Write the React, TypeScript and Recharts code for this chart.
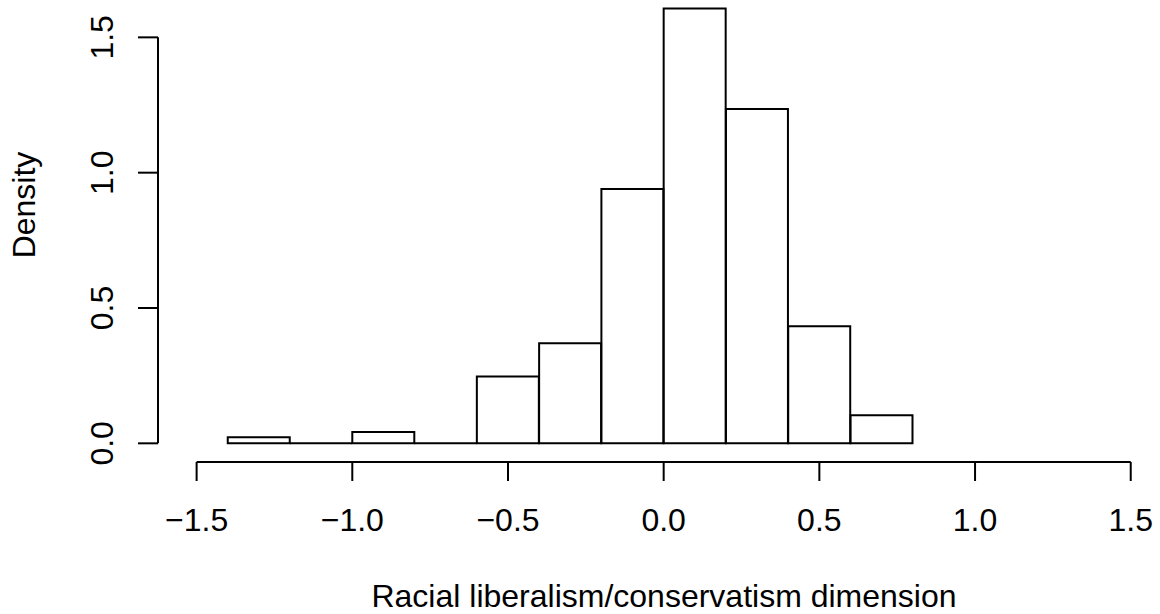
import { ComposedChart, Bar, XAxis, YAxis, ReferenceLine } from 'recharts';

// Histogram bins (left edges), width 0.2, densities
const BIN_START = [-1.4, -1.2, -1.0, -0.8, -0.6, -0.4, -0.2, 0.0, 0.2, 0.4, 0.6];
const BIN_WIDTH = 0.2;
const DENSITY = [0.022, 0, 0.042, 0, 0.247, 0.370, 0.940, 1.607, 1.235, 0.433, 0.104];

const X_TICKS = [-1.5, -1, -0.5, 0, 0.5, 1, 1.5];
const X_TICK_LABELS = ['−1.5', '−1.0', '−0.5', '0.0', '0.5', '1.0', '1.5'];
const Y_TICKS = [0, 0.5, 1, 1.5];
const Y_TICK_LABELS = ['0.0', '0.5', '1.0', '1.5'];

// plot region extends a bit past the axes, like base R does
const X_DOMAIN = [-1.624, 1.594];
const Y_DOMAIN = [-0.069, 1.638];

const FONT = '"Liberation Sans", Arial, Helvetica, sans-serif';
const FONT_SIZE = 32;

const data = BIN_START.map((s, i) => ({ mid: s + BIN_WIDTH / 2, density: DENSITY[i] }));

// outline only, so empty bins still show as a flat line
const HistBar = (props: any) => {
  const { x, y, width, height } = props;
  const d = `M${x},${y + height}L${x},${y}L${x + width},${y}L${x + width},${y + height}Z`;
  return <path d={d} fill="none" stroke="#000" strokeWidth={2} />;
};

const XTick = (props: any) => {
  const { x, y, payload } = props;
  const i = X_TICKS.indexOf(payload.value);
  return (
    <text x={x} y={y + 50} textAnchor="middle" fill="#000" fontFamily={FONT} fontSize={FONT_SIZE}>
      {X_TICK_LABELS[i]}
    </text>
  );
};

const YTick = (props: any) => {
  const { x, y, payload } = props;
  const i = Y_TICKS.indexOf(payload.value);
  const bx = x - 25;
  return (
    <text
      x={bx} y={y}
      transform={`rotate(-90, ${bx}, ${y})`}
      textAnchor="middle" fill="#000" fontFamily={FONT} fontSize={FONT_SIZE}
    >
      {Y_TICK_LABELS[i]}
    </text>
  );
};

const XLabel = () => (
  <text x={664} y={607} textAnchor="middle" fill="#000" fontFamily={FONT} fontSize={FONT_SIZE}>
    Racial liberalism/conservatism dimension
  </text>
);

const YLabel = () => (
  <text
    x={35} y={205}
    transform="rotate(-90, 35, 205)"
    textAnchor="middle" fill="#000" fontFamily={FONT} fontSize={FONT_SIZE}
  >
    Density
  </text>
);

export default function App() {
  return (
    <div style={{ position: 'absolute', left: 0, top: 0, width: 1160, height: 614, background: '#fff' }}>
      <ComposedChart
        width={1160}
        height={614}
        data={data}
        margin={{ top: 0, right: 0, bottom: 0, left: 0 }}
        barCategoryGap={0}
        barGap={0}
      >
        <XAxis
          type="number"
          dataKey="mid"
          domain={X_DOMAIN}
          allowDataOverflow
          ticks={X_TICKS}
          interval={0}
          height={152}
          axisLine={false}
          tickSize={19}
          tickMargin={0}
          tickLine={{ stroke: '#000', strokeWidth: 2 }}
          tick={<XTick />}
          label={<XLabel />}
        />
        <YAxis
          type="number"
          domain={Y_DOMAIN}
          allowDataOverflow
          ticks={Y_TICKS}
          interval={0}
          width={158}
          axisLine={false}
          tickSize={20}
          tickMargin={0}
          tickLine={{ stroke: '#000', strokeWidth: 2 }}
          tick={<YTick />}
          label={<YLabel />}
        />
        <Bar dataKey="density" shape={<HistBar />} isAnimationActive={false} />
        <ReferenceLine
          segment={[{ x: X_TICKS[0], y: Y_DOMAIN[0] }, { x: X_TICKS[X_TICKS.length - 1], y: Y_DOMAIN[0] }]}
          stroke="#000" strokeWidth={2} ifOverflow="visible"
        />
        <ReferenceLine
          segment={[{ x: X_DOMAIN[0], y: Y_TICKS[0] }, { x: X_DOMAIN[0], y: Y_TICKS[Y_TICKS.length - 1] }]}
          stroke="#000" strokeWidth={2} ifOverflow="visible"
        />
      </ComposedChart>
    </div>
  );
}
